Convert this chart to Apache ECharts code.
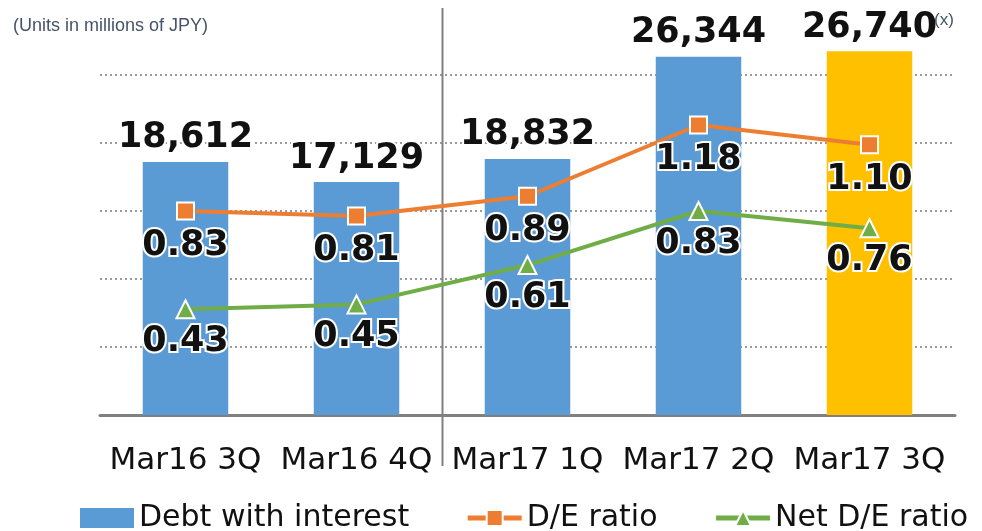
<!DOCTYPE html>
<html>
<head>
    <meta charset="utf-8">
    <title>Debt with interest</title>
    <script src="https://cdn.jsdelivr.net/npm/echarts@6/dist/echarts.min.js"></script>
    <style>
        html, body { margin: 0; padding: 0; background: #fff; }
    </style>
</head>
<body>
  <div id="main" style="width: 982px;height:531px;"></div>
<script type="text/javascript">
// 数据
var categories = ['Mar16 3Q', 'Mar16 4Q', 'Mar17 1Q', 'Mar17 2Q', 'Mar17 3Q'];
var debtValues = [18612, 17129, 18832, 26344, 26740];
var deRatio = [0.83, 0.81, 0.89, 1.18, 1.10];
var netDeRatio = [0.43, 0.45, 0.61, 0.83, 0.76];
var barColors = ['#5B9BD5', '#5B9BD5', '#5B9BD5', '#5B9BD5', '#FFC000'];

var bigLabel = {
    show: true,
    color: '#111',
    fontFamily: 'DejaVu Sans',
    fontWeight: 'bold',
    fontSize: 35,
    textBorderColor: '#fff',
    textBorderWidth: 4
};

function makeChart(){
    var myChart = echarts.init(document.getElementById('main'));   //初始化
    var option = {
        animation: false,
        grid: { left: 100, right: 27, top: 7, bottom: 116 },
        title: [{
            text: '(Units in millions of JPY)',
            left: 8, top: 12,
            textStyle: { fontFamily: 'Liberation Sans', fontSize: 18, fontWeight: 'normal', color: '#44546A' }
        }, {
            text: '(x)',
            left: 929, top: 7,
            textStyle: { fontFamily: 'Liberation Sans', fontSize: 17, fontWeight: 'normal', color: '#44546A' }
        }],
        legend: {
            left: 75,
            top: 498,
            itemWidth: 54,
            itemHeight: 20,
            itemGap: 56,
            textStyle: { fontFamily: 'DejaVu Sans', fontSize: 30, color: '#111' },
            data: [
                { name: 'Debt with interest', icon: 'rect' },
                { name: 'D/E ratio', lineStyle: { width: 5 } },
                { name: 'Net D/E ratio', lineStyle: { width: 5 } }
            ]
        },
        xAxis: {
            type: 'category',
            data: categories,
            axisTick: { show: false },
            axisLine: { lineStyle: { color: '#808080', width: 3 } },
            axisLabel: { interval: 0, color: '#111', fontFamily: 'DejaVu Sans', fontSize: 31, margin: 30 }
        },
        yAxis: [{
            type: 'value',
            min: 0, max: 30000, interval: 5000,
            axisLabel: { show: false },
            axisLine: { show: false },
            axisTick: { show: false },
            splitLine: { showMaxLine: false, lineStyle: { color: '#9a9a9a', type: [2, 3], width: 2 } }
        }, {
            type: 'value',
            min: 0, max: 1.66,
            axisLabel: { show: false },
            axisLine: { show: false },
            axisTick: { show: false },
            splitLine: { show: false }
        }],
        series: [{
            name: 'Debt with interest',
            type: 'bar',
            barWidth: '50%',
            itemStyle: { color: '#5B9BD5' },
            data: debtValues.map(function (v, i) {
                return { value: v, itemStyle: { color: barColors[i] } };
            }),
            label: Object.assign({}, bigLabel, {
                position: 'top',
                distance: 6,
                formatter: function (p) { return p.value.toLocaleString('en-US'); }
            }),
            z: 1
        }, {
            name: 'D/E ratio',
            type: 'line',
            yAxisIndex: 1,
            data: deRatio,
            symbol: 'rect',
            symbolSize: 17,
            lineStyle: { color: '#ED7D31', width: 4 },
            itemStyle: { color: '#ED7D31', borderColor: '#fff', borderWidth: 2 },
            label: Object.assign({}, bigLabel, {
                position: 'bottom',
                distance: 8,
                formatter: function (p) { return p.value.toFixed(2); }
            }),
            z: 3
        }, {
            name: 'Net D/E ratio',
            type: 'line',
            yAxisIndex: 1,
            data: netDeRatio,
            symbol: 'triangle',
            symbolSize: 18,
            lineStyle: { color: '#70AD47', width: 4 },
            itemStyle: { color: '#70AD47', borderColor: '#fff', borderWidth: 2 },
            label: Object.assign({}, bigLabel, {
                position: 'bottom',
                distance: 5,
                formatter: function (p) { return p.value.toFixed(2); }
            }),
            z: 3
        }]
    };
    myChart.setOption(option);

    // 期間の区切り線 (Mar16 4Q と Mar17 1Q の間)
    var x1 = myChart.convertToPixel({ xAxisIndex: 0 }, 1);
    var x2 = myChart.convertToPixel({ xAxisIndex: 0 }, 2);
    var xs = Math.round((x1 + x2) / 2) + 0.5;
    myChart.setOption({
        graphic: [{
            type: 'line',
            shape: { x1: xs, y1: 8, x2: xs, y2: 466 },
            style: { stroke: '#808080', lineWidth: 2 },
            z: 0
        }]
    });
}
makeChart();
</script>
</body>
</html>
